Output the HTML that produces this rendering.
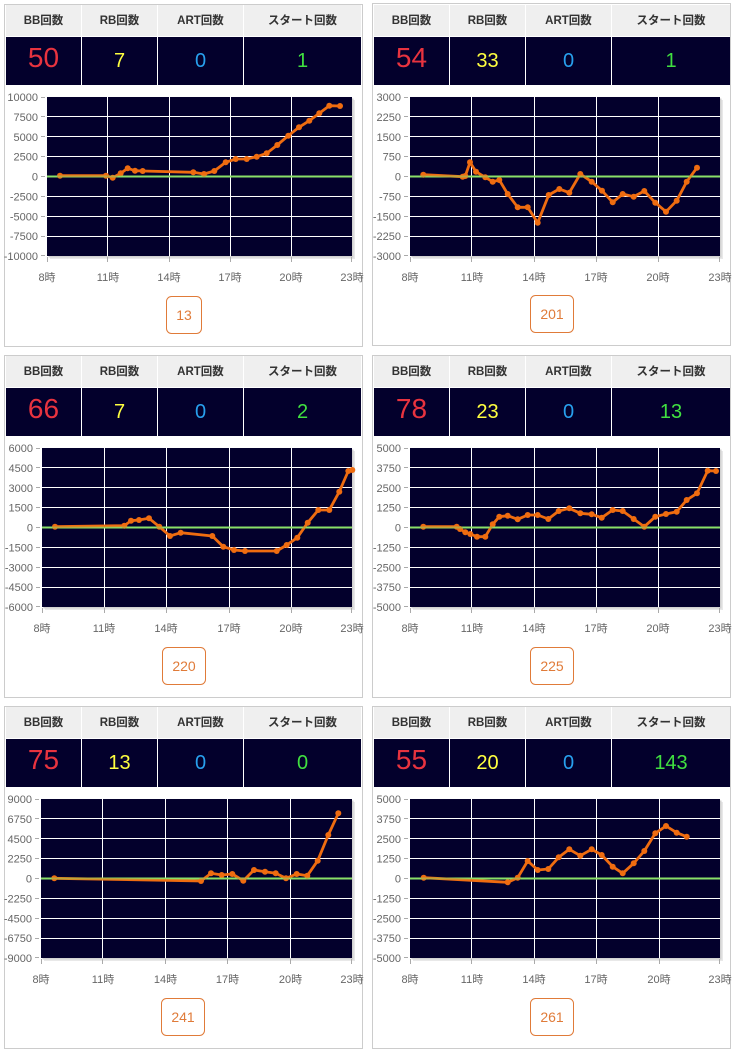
<!DOCTYPE html>
<html><head><meta charset="utf-8">
<style>
html,body{margin:0;padding:0;background:#fff;}
svg{display:block;}
text{font-family:"Liberation Sans","Noto Sans CJK JP",sans-serif;}
.hd{font-weight:bold;font-size:11.5px;fill:#333;text-anchor:middle;}
.yl{font-size:11px;fill:#666;text-anchor:end;}
.xl{font-size:11px;fill:#666;text-anchor:middle;}
.bb{font-size:28px;fill:#e8333f;text-anchor:middle;}
.rb{font-size:20px;fill:#ffff40;text-anchor:middle;}
.art{font-size:20px;fill:#28a0ee;text-anchor:middle;}
.st{font-size:20px;fill:#40e040;text-anchor:middle;}
.bt{font-size:14px;fill:#e07b39;text-anchor:middle;}
.brd{fill:#fff;stroke:#cccccc;stroke-width:1;}
.hc{fill:#efefef;}
.dc{fill:#03002c;}
.btn{fill:#fff;stroke:#e07b39;stroke-width:1;}
.plot{fill:#03002c;}
.sh1{fill:#e8e8e8;}
.sh2{fill:#d2d2d2;}
.grid{stroke:#ffffff;stroke-width:1;fill:none;}
.tk{stroke:#aaa;stroke-width:1;fill:none;}
.ser{fill:none;stroke:#ef6c10;stroke-width:2.8;stroke-linejoin:round;stroke-linecap:round;}
.mk circle{fill:#ef6c10;}
.z{stroke:#8ae068;stroke-width:2;}
.z2{stroke:#8ae068;stroke-width:2;opacity:0.5;}
</style></head>
<body>
<svg width="736" height="1053" viewBox="0 0 736 1053" xmlns="http://www.w3.org/2000/svg">

<!-- ================= PANEL 1 ================= -->
<rect class="brd" x="4.5" y="4.5" width="358" height="342"/>
<rect class="hc" x="6" y="5" width="75" height="31"/>
<rect class="hc" x="82" y="5" width="75" height="31"/>
<rect class="hc" x="158" y="5" width="85" height="31"/>
<rect class="hc" x="244" y="5" width="117" height="31"/>
<rect class="dc" x="6" y="37" width="75" height="48"/>
<rect class="dc" x="82" y="37" width="75" height="48"/>
<rect class="dc" x="158" y="37" width="85" height="48"/>
<rect class="dc" x="244" y="37" width="117" height="48"/>
<text class="hd" x="43.5" y="24">BB回数</text>
<text class="hd" x="119.5" y="24">RB回数</text>
<text class="hd" x="200.5" y="24">ART回数</text>
<text class="hd" x="302.5" y="24">スタート回数</text>
<text class="bb" x="43.5" y="67">50</text>
<text class="rb" x="119.5" y="67">7</text>
<text class="art" x="200.5" y="67">0</text>
<text class="st" x="302.5" y="67">1</text>
<rect class="sh1" x="50" y="100" width="305" height="159"/>
<rect class="sh2" x="48.5" y="98.5" width="305" height="159"/>
<rect class="plot" x="47" y="97" width="305" height="159"/>
<path class="grid" d="M47 116.5H352M47 136.5H352M47 156.5H352M47 196.5H352M47 216.5H352M47 236.5H352M107.5 97V256M169.5 97V256M230.5 97V256M291.5 97V256"/>
<line class="z" x1="47" y1="176.5" x2="352" y2="176.5"/>
<path class="tk" d="M41 97.5H45M41 116.5H45M41 136.5H45M41 156.5H45M41 176.5H45M41 196.5H45M41 216.5H45M41 236.5H45M41 255.5H45M47.5 257V262M107.5 257V262M169.5 257V262M230.5 257V262M291.5 257V262M351.5 257V262"/>
<text class="yl" x="38" y="101">10000</text>
<text class="yl" x="38" y="120.9">7500</text>
<text class="yl" x="38" y="140.8">5000</text>
<text class="yl" x="38" y="160.6">2500</text>
<text class="yl" x="38" y="180.5">0</text>
<text class="yl" x="38" y="200.4">-2500</text>
<text class="yl" x="38" y="220.3">-5000</text>
<text class="yl" x="38" y="240.1">-7500</text>
<text class="yl" x="38" y="260">-10000</text>
<text class="xl" x="47" y="281">8時</text>
<text class="xl" x="108" y="281">11時</text>
<text class="xl" x="169" y="281">14時</text>
<text class="xl" x="230" y="281">17時</text>
<text class="xl" x="291" y="281">20時</text>
<text class="xl" x="352" y="281">23時</text>
<polyline class="ser" points="60,175.7 106,175.7 112.7,177.7 120.7,173.3 127.7,168.3 135,170.7 142.7,171 193.3,172.3 204,174 214.3,171 225.7,162.3 235.7,159 246.7,159 256.7,156.7 266.7,153.3 277.3,145 288.3,135.7 299,127.3 309.3,120.7 319.3,113.3 329.3,105.7 340,106"/>
<g class="mk"><circle cx="60" cy="175.7" r="3"/><circle cx="106" cy="175.7" r="3"/><circle cx="112.7" cy="177.7" r="3"/><circle cx="120.7" cy="173.3" r="3"/><circle cx="127.7" cy="168.3" r="3"/><circle cx="135" cy="170.7" r="3"/><circle cx="142.7" cy="171" r="3"/><circle cx="193.3" cy="172.3" r="3"/><circle cx="204" cy="174" r="3"/><circle cx="214.3" cy="171" r="3"/><circle cx="225.7" cy="162.3" r="3"/><circle cx="235.7" cy="159" r="3"/><circle cx="246.7" cy="159" r="3"/><circle cx="256.7" cy="156.7" r="3"/><circle cx="266.7" cy="153.3" r="3"/><circle cx="277.3" cy="145" r="3"/><circle cx="288.3" cy="135.7" r="3"/><circle cx="299" cy="127.3" r="3"/><circle cx="309.3" cy="120.7" r="3"/><circle cx="319.3" cy="113.3" r="3"/><circle cx="329.3" cy="105.7" r="3"/><circle cx="340" cy="106" r="3"/></g>
<line class="z2" x1="47" y1="176.5" x2="352" y2="176.5"/>
<rect class="btn" x="166.5" y="296.5" width="35" height="37" rx="5"/>
<text class="bt" x="184" y="320">13</text>

<!-- ================= PANEL 2 ================= -->
<rect class="brd" x="372.5" y="3.5" width="358" height="342"/>
<rect class="hc" x="374" y="5" width="75" height="31"/>
<rect class="hc" x="450" y="5" width="75" height="31"/>
<rect class="hc" x="526" y="5" width="85" height="31"/>
<rect class="hc" x="612" y="5" width="118" height="31"/>
<rect class="dc" x="374" y="37" width="75" height="48"/>
<rect class="dc" x="450" y="37" width="75" height="48"/>
<rect class="dc" x="526" y="37" width="85" height="48"/>
<rect class="dc" x="612" y="37" width="118" height="48"/>
<text class="hd" x="411.5" y="24">BB回数</text>
<text class="hd" x="487.5" y="24">RB回数</text>
<text class="hd" x="568.5" y="24">ART回数</text>
<text class="hd" x="671" y="24">スタート回数</text>
<text class="bb" x="411.5" y="67">54</text>
<text class="rb" x="487.5" y="67">33</text>
<text class="art" x="568.5" y="67">0</text>
<text class="st" x="671" y="67">1</text>
<rect class="sh1" x="413" y="100" width="310" height="159"/>
<rect class="sh2" x="411.5" y="98.5" width="310" height="159"/>
<rect class="plot" x="410" y="97" width="310" height="159"/>
<path class="grid" d="M410 116.5H720M410 136.5H720M410 156.5H720M410 196.5H720M410 216.5H720M410 236.5H720M471.5 97V256M534.5 97V256M596.5 97V256M658.5 97V256"/>
<line class="z" x1="410" y1="176.5" x2="720" y2="176.5"/>
<path class="tk" d="M404 97.5H408M404 116.5H408M404 136.5H408M404 156.5H408M404 176.5H408M404 196.5H408M404 216.5H408M404 236.5H408M404 255.5H408M410.5 257V262M471.5 257V262M534.5 257V262M596.5 257V262M658.5 257V262M719.5 257V262"/>
<text class="yl" x="401" y="101">3000</text>
<text class="yl" x="401" y="120.9">2250</text>
<text class="yl" x="401" y="140.8">1500</text>
<text class="yl" x="401" y="160.6">750</text>
<text class="yl" x="401" y="180.5">0</text>
<text class="yl" x="401" y="200.4">-750</text>
<text class="yl" x="401" y="220.3">-1500</text>
<text class="yl" x="401" y="240.1">-2250</text>
<text class="yl" x="401" y="260">-3000</text>
<text class="xl" x="410" y="281">8時</text>
<text class="xl" x="472" y="281">11時</text>
<text class="xl" x="534" y="281">14時</text>
<text class="xl" x="596" y="281">17時</text>
<text class="xl" x="658" y="281">20時</text>
<text class="xl" x="720" y="281">23時</text>
<polyline class="ser" points="423.3,174.7 462.7,176.7 465.3,176 470,162.3 476,171.7 485.3,177.3 492.7,181.7 499.3,180 507.7,194 517.7,207.3 527.7,207.3 537.7,222.7 548.7,195 559.3,189 569.3,192.7 580.3,174 591.7,181.7 602,190.7 612.7,202.3 622.7,194 633.7,196.7 644.3,191 655.3,202.7 666,211.7 676.7,200.7 686.7,181.7 697,167.7"/>
<g class="mk"><circle cx="423.3" cy="174.7" r="3"/><circle cx="462.7" cy="176.7" r="3"/><circle cx="465.3" cy="176" r="3"/><circle cx="470" cy="162.3" r="3"/><circle cx="476" cy="171.7" r="3"/><circle cx="485.3" cy="177.3" r="3"/><circle cx="492.7" cy="181.7" r="3"/><circle cx="499.3" cy="180" r="3"/><circle cx="507.7" cy="194" r="3"/><circle cx="517.7" cy="207.3" r="3"/><circle cx="527.7" cy="207.3" r="3"/><circle cx="537.7" cy="222.7" r="3"/><circle cx="548.7" cy="195" r="3"/><circle cx="559.3" cy="189" r="3"/><circle cx="569.3" cy="192.7" r="3"/><circle cx="580.3" cy="174" r="3"/><circle cx="591.7" cy="181.7" r="3"/><circle cx="602" cy="190.7" r="3"/><circle cx="612.7" cy="202.3" r="3"/><circle cx="622.7" cy="194" r="3"/><circle cx="633.7" cy="196.7" r="3"/><circle cx="644.3" cy="191" r="3"/><circle cx="655.3" cy="202.7" r="3"/><circle cx="666" cy="211.7" r="3"/><circle cx="676.7" cy="200.7" r="3"/><circle cx="686.7" cy="181.7" r="3"/><circle cx="697" cy="167.7" r="3"/></g>
<line class="z2" x1="410" y1="176.5" x2="720" y2="176.5"/>
<rect class="btn" x="530.5" y="295.5" width="43" height="37" rx="5"/>
<text class="bt" x="552" y="319">201</text>

<!-- ================= PANEL 3 ================= -->
<rect class="brd" x="4.5" y="355.5" width="358" height="342"/>
<rect class="hc" x="6" y="356" width="75" height="31"/>
<rect class="hc" x="82" y="356" width="75" height="31"/>
<rect class="hc" x="158" y="356" width="85" height="31"/>
<rect class="hc" x="244" y="356" width="117" height="31"/>
<rect class="dc" x="6" y="388" width="75" height="48"/>
<rect class="dc" x="82" y="388" width="75" height="48"/>
<rect class="dc" x="158" y="388" width="85" height="48"/>
<rect class="dc" x="244" y="388" width="117" height="48"/>
<text class="hd" x="43.5" y="375">BB回数</text>
<text class="hd" x="119.5" y="375">RB回数</text>
<text class="hd" x="200.5" y="375">ART回数</text>
<text class="hd" x="302.5" y="375">スタート回数</text>
<text class="bb" x="43.5" y="418">66</text>
<text class="rb" x="119.5" y="418">7</text>
<text class="art" x="200.5" y="418">0</text>
<text class="st" x="302.5" y="418">2</text>
<rect class="sh1" x="45" y="451" width="310" height="159"/>
<rect class="sh2" x="43.5" y="449.5" width="310" height="159"/>
<rect class="plot" x="42" y="448" width="310" height="159"/>
<path class="grid" d="M42 467.5H352M42 487.5H352M42 507.5H352M42 547.5H352M42 567.5H352M42 587.5H352M104.5 448V607M166.5 448V607M229.5 448V607M291.5 448V607"/>
<line class="z" x1="42" y1="527.5" x2="352" y2="527.5"/>
<path class="tk" d="M36 448.5H40M36 467.5H40M36 487.5H40M36 507.5H40M36 527.5H40M36 547.5H40M36 567.5H40M36 587.5H40M36 606.5H40M42.5 608V613M104.5 608V613M166.5 608V613M229.5 608V613M291.5 608V613M351.5 608V613"/>
<text class="yl" x="33" y="452">6000</text>
<text class="yl" x="33" y="471.9">4500</text>
<text class="yl" x="33" y="491.8">3000</text>
<text class="yl" x="33" y="511.6">1500</text>
<text class="yl" x="33" y="531.5">0</text>
<text class="yl" x="33" y="551.4">-1500</text>
<text class="yl" x="33" y="571.3">-3000</text>
<text class="yl" x="33" y="591.1">-4500</text>
<text class="yl" x="33" y="611">-6000</text>
<text class="xl" x="42" y="632">8時</text>
<text class="xl" x="104" y="632">11時</text>
<text class="xl" x="166" y="632">14時</text>
<text class="xl" x="229" y="632">17時</text>
<text class="xl" x="291" y="632">20時</text>
<text class="xl" x="352" y="632">23時</text>
<polyline class="ser" points="55,526.7 124.3,525.7 131,520.7 139,520 149,518.3 159.3,526.7 170,536 180.7,532.7 212.3,536 223.3,546.7 234,550 245,551 276.7,551 286.7,545 297.3,537.7 307.7,522.7 318.3,510 329.3,510 339.3,491.7 348.3,471 352.3,470"/>
<g class="mk"><circle cx="55" cy="526.7" r="3"/><circle cx="124.3" cy="525.7" r="3"/><circle cx="131" cy="520.7" r="3"/><circle cx="139" cy="520" r="3"/><circle cx="149" cy="518.3" r="3"/><circle cx="159.3" cy="526.7" r="3"/><circle cx="170" cy="536" r="3"/><circle cx="180.7" cy="532.7" r="3"/><circle cx="212.3" cy="536" r="3"/><circle cx="223.3" cy="546.7" r="3"/><circle cx="234" cy="550" r="3"/><circle cx="245" cy="551" r="3"/><circle cx="276.7" cy="551" r="3"/><circle cx="286.7" cy="545" r="3"/><circle cx="297.3" cy="537.7" r="3"/><circle cx="307.7" cy="522.7" r="3"/><circle cx="318.3" cy="510" r="3"/><circle cx="329.3" cy="510" r="3"/><circle cx="339.3" cy="491.7" r="3"/><circle cx="348.3" cy="471" r="3"/><circle cx="352.3" cy="470" r="3"/></g>
<line class="z2" x1="42" y1="527.5" x2="352" y2="527.5"/>
<rect class="btn" x="162.5" y="647.5" width="43" height="37" rx="5"/>
<text class="bt" x="184" y="671">220</text>

<!-- ================= PANEL 4 ================= -->
<rect class="brd" x="372.5" y="355.5" width="358" height="342"/>
<rect class="hc" x="374" y="356" width="75" height="31"/>
<rect class="hc" x="450" y="356" width="75" height="31"/>
<rect class="hc" x="526" y="356" width="85" height="31"/>
<rect class="hc" x="612" y="356" width="118" height="31"/>
<rect class="dc" x="374" y="388" width="75" height="48"/>
<rect class="dc" x="450" y="388" width="75" height="48"/>
<rect class="dc" x="526" y="388" width="85" height="48"/>
<rect class="dc" x="612" y="388" width="118" height="48"/>
<text class="hd" x="411.5" y="375">BB回数</text>
<text class="hd" x="487.5" y="375">RB回数</text>
<text class="hd" x="568.5" y="375">ART回数</text>
<text class="hd" x="671" y="375">スタート回数</text>
<text class="bb" x="411.5" y="418">78</text>
<text class="rb" x="487.5" y="418">23</text>
<text class="art" x="568.5" y="418">0</text>
<text class="st" x="671" y="418">13</text>
<rect class="sh1" x="413" y="451" width="310" height="159"/>
<rect class="sh2" x="411.5" y="449.5" width="310" height="159"/>
<rect class="plot" x="410" y="448" width="310" height="159"/>
<path class="grid" d="M410 467.5H720M410 487.5H720M410 507.5H720M410 547.5H720M410 567.5H720M410 587.5H720M471.5 448V607M534.5 448V607M596.5 448V607M658.5 448V607"/>
<line class="z" x1="410" y1="527.5" x2="720" y2="527.5"/>
<path class="tk" d="M404 448.5H408M404 467.5H408M404 487.5H408M404 507.5H408M404 527.5H408M404 547.5H408M404 567.5H408M404 587.5H408M404 606.5H408M410.5 608V613M471.5 608V613M534.5 608V613M596.5 608V613M658.5 608V613M719.5 608V613"/>
<text class="yl" x="401" y="452">5000</text>
<text class="yl" x="401" y="471.9">3750</text>
<text class="yl" x="401" y="491.8">2500</text>
<text class="yl" x="401" y="511.6">1250</text>
<text class="yl" x="401" y="531.5">0</text>
<text class="yl" x="401" y="551.4">-1250</text>
<text class="yl" x="401" y="571.3">-2500</text>
<text class="yl" x="401" y="591.1">-3750</text>
<text class="yl" x="401" y="611">-5000</text>
<text class="xl" x="410" y="632">8時</text>
<text class="xl" x="472" y="632">11時</text>
<text class="xl" x="534" y="632">14時</text>
<text class="xl" x="596" y="632">17時</text>
<text class="xl" x="658" y="632">20時</text>
<text class="xl" x="720" y="632">23時</text>
<polyline class="ser" points="423.3,526.7 456.7,526.7 460,529 465.3,532.3 470.3,534 477,536.7 485.3,536.7 492.7,524.3 499.3,516.7 507.7,515.7 517.7,519.3 527.7,515 537.7,515 548.3,519 558.7,511 569.3,508.3 580.3,513.3 591.7,514.3 601.7,517.7 612.7,510 622.7,511 633.7,519 644.3,526.7 655.3,516.7 666,514 676.7,511.7 686.7,500 697,493.3 707.7,470.7 716,471"/>
<g class="mk"><circle cx="423.3" cy="526.7" r="3"/><circle cx="456.7" cy="526.7" r="3"/><circle cx="460" cy="529" r="3"/><circle cx="465.3" cy="532.3" r="3"/><circle cx="470.3" cy="534" r="3"/><circle cx="477" cy="536.7" r="3"/><circle cx="485.3" cy="536.7" r="3"/><circle cx="492.7" cy="524.3" r="3"/><circle cx="499.3" cy="516.7" r="3"/><circle cx="507.7" cy="515.7" r="3"/><circle cx="517.7" cy="519.3" r="3"/><circle cx="527.7" cy="515" r="3"/><circle cx="537.7" cy="515" r="3"/><circle cx="548.3" cy="519" r="3"/><circle cx="558.7" cy="511" r="3"/><circle cx="569.3" cy="508.3" r="3"/><circle cx="580.3" cy="513.3" r="3"/><circle cx="591.7" cy="514.3" r="3"/><circle cx="601.7" cy="517.7" r="3"/><circle cx="612.7" cy="510" r="3"/><circle cx="622.7" cy="511" r="3"/><circle cx="633.7" cy="519" r="3"/><circle cx="644.3" cy="526.7" r="3"/><circle cx="655.3" cy="516.7" r="3"/><circle cx="666" cy="514" r="3"/><circle cx="676.7" cy="511.7" r="3"/><circle cx="686.7" cy="500" r="3"/><circle cx="697" cy="493.3" r="3"/><circle cx="707.7" cy="470.7" r="3"/><circle cx="716" cy="471" r="3"/></g>
<line class="z2" x1="410" y1="527.5" x2="720" y2="527.5"/>
<rect class="btn" x="530.5" y="647.5" width="43" height="37" rx="5"/>
<text class="bt" x="552" y="671">225</text>

<!-- ================= PANEL 5 ================= -->
<rect class="brd" x="4.5" y="706.5" width="358" height="342"/>
<rect class="hc" x="6" y="707" width="75" height="31"/>
<rect class="hc" x="82" y="707" width="75" height="31"/>
<rect class="hc" x="158" y="707" width="85" height="31"/>
<rect class="hc" x="244" y="707" width="117" height="31"/>
<rect class="dc" x="6" y="739" width="75" height="48"/>
<rect class="dc" x="82" y="739" width="75" height="48"/>
<rect class="dc" x="158" y="739" width="85" height="48"/>
<rect class="dc" x="244" y="739" width="117" height="48"/>
<text class="hd" x="43.5" y="726">BB回数</text>
<text class="hd" x="119.5" y="726">RB回数</text>
<text class="hd" x="200.5" y="726">ART回数</text>
<text class="hd" x="302.5" y="726">スタート回数</text>
<text class="bb" x="43.5" y="769">75</text>
<text class="rb" x="119.5" y="769">13</text>
<text class="art" x="200.5" y="769">0</text>
<text class="st" x="302.5" y="769">0</text>
<rect class="sh1" x="44" y="802" width="311" height="159"/>
<rect class="sh2" x="42.5" y="800.5" width="311" height="159"/>
<rect class="plot" x="41" y="799" width="311" height="159"/>
<path class="grid" d="M41 818.5H352M41 838.5H352M41 858.5H352M41 898.5H352M41 918.5H352M41 938.5H352M102.5 799V958M165.5 799V958M227.5 799V958M290.5 799V958"/>
<line class="z" x1="41" y1="878.5" x2="352" y2="878.5"/>
<path class="tk" d="M35 799.5H39M35 818.5H39M35 838.5H39M35 858.5H39M35 878.5H39M35 898.5H39M35 918.5H39M35 938.5H39M35 957.5H39M41.5 959V964M102.5 959V964M165.5 959V964M227.5 959V964M290.5 959V964M351.5 959V964"/>
<text class="yl" x="32" y="803">9000</text>
<text class="yl" x="32" y="822.9">6750</text>
<text class="yl" x="32" y="842.8">4500</text>
<text class="yl" x="32" y="862.6">2250</text>
<text class="yl" x="32" y="882.5">0</text>
<text class="yl" x="32" y="902.4">-2250</text>
<text class="yl" x="32" y="922.3">-4500</text>
<text class="yl" x="32" y="942.1">-6750</text>
<text class="yl" x="32" y="962">-9000</text>
<text class="xl" x="41" y="983">8時</text>
<text class="xl" x="103" y="983">11時</text>
<text class="xl" x="165.5" y="983">14時</text>
<text class="xl" x="227.5" y="983">17時</text>
<text class="xl" x="290.5" y="983">20時</text>
<text class="xl" x="352" y="983">23時</text>
<polyline class="ser" points="54.3,878.3 201,881 211,873.3 221.7,875 232.3,874 243.3,880.7 254,870 265,871.7 275.7,873.3 286,878.3 296.7,874 307.3,875.7 317.7,860.7 328.3,835 338.3,813.3"/>
<g class="mk"><circle cx="54.3" cy="878.3" r="3"/><circle cx="201" cy="881" r="3"/><circle cx="211" cy="873.3" r="3"/><circle cx="221.7" cy="875" r="3"/><circle cx="232.3" cy="874" r="3"/><circle cx="243.3" cy="880.7" r="3"/><circle cx="254" cy="870" r="3"/><circle cx="265" cy="871.7" r="3"/><circle cx="275.7" cy="873.3" r="3"/><circle cx="286" cy="878.3" r="3"/><circle cx="296.7" cy="874" r="3"/><circle cx="307.3" cy="875.7" r="3"/><circle cx="317.7" cy="860.7" r="3"/><circle cx="328.3" cy="835" r="3"/><circle cx="338.3" cy="813.3" r="3"/></g>
<line class="z2" x1="41" y1="878.5" x2="352" y2="878.5"/>
<rect class="btn" x="161.5" y="998.5" width="43" height="37" rx="5"/>
<text class="bt" x="183" y="1022">241</text>

<!-- ================= PANEL 6 ================= -->
<rect class="brd" x="372.5" y="706.5" width="358" height="342"/>
<rect class="hc" x="374" y="707" width="75" height="31"/>
<rect class="hc" x="450" y="707" width="75" height="31"/>
<rect class="hc" x="526" y="707" width="85" height="31"/>
<rect class="hc" x="612" y="707" width="118" height="31"/>
<rect class="dc" x="374" y="739" width="75" height="48"/>
<rect class="dc" x="450" y="739" width="75" height="48"/>
<rect class="dc" x="526" y="739" width="85" height="48"/>
<rect class="dc" x="612" y="739" width="118" height="48"/>
<text class="hd" x="411.5" y="726">BB回数</text>
<text class="hd" x="487.5" y="726">RB回数</text>
<text class="hd" x="568.5" y="726">ART回数</text>
<text class="hd" x="671" y="726">スタート回数</text>
<text class="bb" x="411.5" y="769">55</text>
<text class="rb" x="487.5" y="769">20</text>
<text class="art" x="568.5" y="769">0</text>
<text class="st" x="671" y="769">143</text>
<rect class="sh1" x="413" y="802" width="310" height="159"/>
<rect class="sh2" x="411.5" y="800.5" width="310" height="159"/>
<rect class="plot" x="410" y="799" width="310" height="159"/>
<path class="grid" d="M410 818.5H720M410 838.5H720M410 858.5H720M410 898.5H720M410 918.5H720M410 938.5H720M471.5 799V958M534.5 799V958M596.5 799V958M659.5 799V958"/>
<line class="z" x1="410" y1="878.5" x2="720" y2="878.5"/>
<path class="tk" d="M404 799.5H408M404 818.5H408M404 838.5H408M404 858.5H408M404 878.5H408M404 898.5H408M404 918.5H408M404 938.5H408M404 957.5H408M410.5 959V964M471.5 959V964M534.5 959V964M596.5 959V964M659.5 959V964M719.5 959V964"/>
<text class="yl" x="401" y="803">5000</text>
<text class="yl" x="401" y="822.9">3750</text>
<text class="yl" x="401" y="842.8">2500</text>
<text class="yl" x="401" y="862.6">1250</text>
<text class="yl" x="401" y="882.5">0</text>
<text class="yl" x="401" y="902.4">-1250</text>
<text class="yl" x="401" y="922.3">-2500</text>
<text class="yl" x="401" y="942.1">-3750</text>
<text class="yl" x="401" y="962">-5000</text>
<text class="xl" x="410" y="983">8時</text>
<text class="xl" x="472" y="983">11時</text>
<text class="xl" x="534" y="983">14時</text>
<text class="xl" x="596" y="983">17時</text>
<text class="xl" x="659" y="983">20時</text>
<text class="xl" x="720" y="983">23時</text>
<polyline class="ser" points="423.7,877.7 507.7,882.3 517.7,877.7 527.7,861 537.7,870 548.3,869 558.7,857.3 569.3,849.3 580.3,855.7 591.7,849.3 601.7,855 612.7,866.7 622.7,873.3 633.7,863.3 644.3,851 655.3,833.3 666,826 676.7,832.7 686.7,836.7"/>
<g class="mk"><circle cx="423.7" cy="877.7" r="3"/><circle cx="507.7" cy="882.3" r="3"/><circle cx="517.7" cy="877.7" r="3"/><circle cx="527.7" cy="861" r="3"/><circle cx="537.7" cy="870" r="3"/><circle cx="548.3" cy="869" r="3"/><circle cx="558.7" cy="857.3" r="3"/><circle cx="569.3" cy="849.3" r="3"/><circle cx="580.3" cy="855.7" r="3"/><circle cx="591.7" cy="849.3" r="3"/><circle cx="601.7" cy="855" r="3"/><circle cx="612.7" cy="866.7" r="3"/><circle cx="622.7" cy="873.3" r="3"/><circle cx="633.7" cy="863.3" r="3"/><circle cx="644.3" cy="851" r="3"/><circle cx="655.3" cy="833.3" r="3"/><circle cx="666" cy="826" r="3"/><circle cx="676.7" cy="832.7" r="3"/><circle cx="686.7" cy="836.7" r="3"/></g>
<line class="z2" x1="410" y1="878.5" x2="720" y2="878.5"/>
<rect class="btn" x="530.5" y="998.5" width="43" height="37" rx="5"/>
<text class="bt" x="552" y="1022">261</text>

</svg>
</body></html>
